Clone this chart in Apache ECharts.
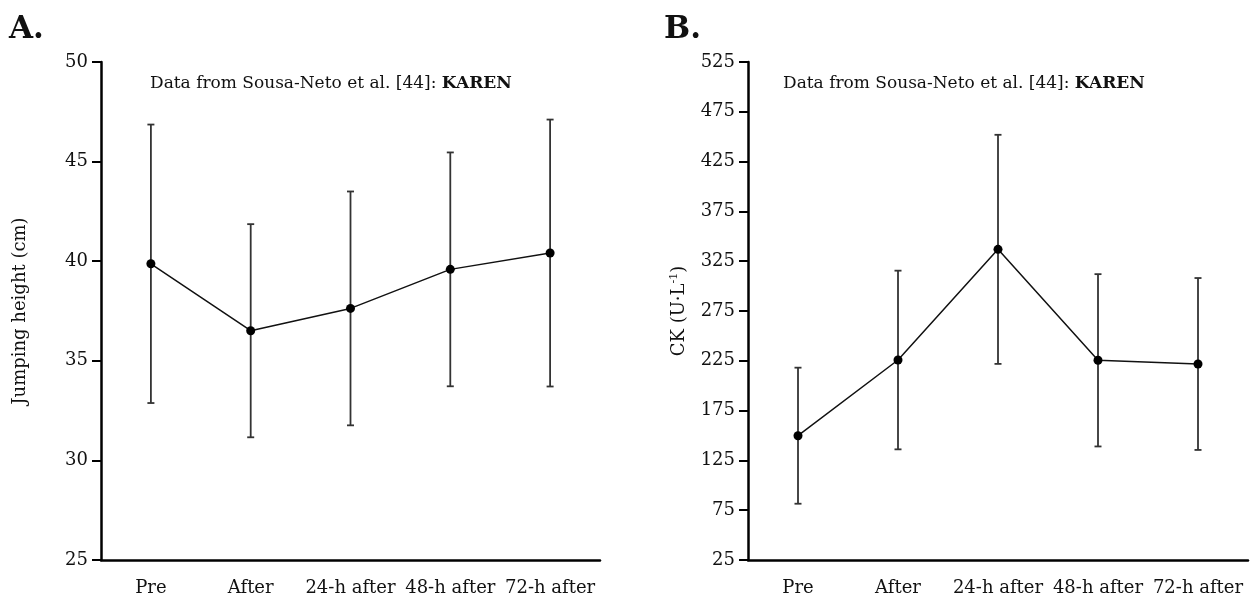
<!DOCTYPE html>
<html>
<head>
<meta charset="utf-8">
<script src="https://cdn.jsdelivr.net/npm/echarts@6/dist/echarts.min.js"></script>
<style>
  html, body { margin: 0; padding: 0; background: #fff; }
  #chart { width: 1253px; height: 601px; }
</style>
</head>
<body>
<div id="chart"></div>
<script>
const categories = ['Pre', 'After', '24-h after', '48-h after', '72-h after']

// panel A: jumping height (cm), mean and SD
const jumpMean = [39.87, 36.51, 37.63, 39.59, 40.41]
const jumpSd = [6.99, 5.35, 5.87, 5.87, 6.70]
const jumpTicks = { min: 25, max: 50, interval: 5 }

// panel B: CK (U/L), mean and SD
const ckMean = [149.8, 225.8, 336.9, 225.5, 221.8]
const ckSd = [68.3, 89.7, 115.0, 86.5, 86.3]
const ckTicks = { min: 25, max: 525, interval: 50 }

const FONT = 'DejaVu Serif'

function errorData(mean, sd) {
  return mean.map((m, i) => [i, m - sd[i], m + sd[i]])
}

function renderErrorBar(params, api) {
  const lo = api.coord([api.value(0), api.value(1)])
  const hi = api.coord([api.value(0), api.value(2)])
  const cap = 3.5
  const style = { stroke: '#333', lineWidth: 1.8 }
  return {
    type: 'group',
    children: [
      { type: 'line', shape: { x1: lo[0], y1: lo[1], x2: hi[0], y2: hi[1] }, style },
      { type: 'line', shape: { x1: hi[0] - cap, y1: hi[1], x2: hi[0] + cap, y2: hi[1] }, style },
      { type: 'line', shape: { x1: lo[0] - cap, y1: lo[1], x2: lo[0] + cap, y2: lo[1] }, style }
    ]
  }
}

function xAxis(gridIndex) {
  return {
    type: 'category',
    gridIndex: gridIndex,
    data: categories,
    boundaryGap: true,
    axisLine: { onZero: false, lineStyle: { color: '#000', width: 2.5 } },
    axisTick: { show: false },
    axisLabel: { interval: 0, color: '#111', fontFamily: FONT, fontSize: 18, margin: 19 },
    splitLine: { show: false }
  }
}

function yAxis(gridIndex, ticks, name, gap) {
  return {
    type: 'value',
    gridIndex: gridIndex,
    min: ticks.min,
    max: ticks.max,
    interval: ticks.interval,
    name: name,
    nameLocation: 'middle',
    nameGap: gap,
    nameTextStyle: {
      color: '#111', fontFamily: FONT, fontSize: 18,
      rich: { sup: { fontFamily: FONT, fontSize: 11, verticalAlign: 'top', padding: [0, 0, 10, 0], color: '#111' } }
    },
    axisLine: { show: true, lineStyle: { color: '#000', width: 2.5 } },
    axisTick: { show: true, inside: false, length: 9, lineStyle: { color: '#000', width: 2 } },
    axisLabel: { color: '#111', fontFamily: FONT, fontSize: 18, margin: 13 },
    splitLine: { show: false }
  }
}

function lineSeries(idx, mean) {
  return {
    type: 'line',
    xAxisIndex: idx,
    yAxisIndex: idx,
    data: mean,
    symbol: 'circle',
    symbolSize: 9,
    lineStyle: { color: '#111', width: 1.5 },
    itemStyle: { color: '#000' },
    z: 3,
    animation: false
  }
}

function barSeries(idx, mean, sd) {
  return {
    type: 'custom',
    xAxisIndex: idx,
    yAxisIndex: idx,
    data: errorData(mean, sd),
    renderItem: renderErrorBar,
    z: 2,
    animation: false
  }
}

function note(left) {
  return {
    type: 'text',
    left: left,
    top: 75,
    style: {
      text: '{n|Data from Sousa-Neto et al. [44]: }{b|KAREN}',
      rich: {
        n: { fontFamily: FONT, fontSize: 17, fill: '#111' },
        b: { fontFamily: FONT, fontSize: 17, fontWeight: 'bold', fill: '#111' }
      }
    }
  }
}

const chart = echarts.init(document.getElementById('chart'))
chart.setOption({
  backgroundColor: '#fff',
  animation: false,
  grid: [
    { left: 101, top: 62, width: 499, bottom: 41 },
    { left: 748, top: 62, width: 500, bottom: 41 }
  ],
  xAxis: [xAxis(0), xAxis(1)],
  yAxis: [
    yAxis(0, jumpTicks, 'Jumping height (cm)', 72),
    yAxis(1, ckTicks, 'CK (U·L{sup|-1})', 58)
  ],
  series: [
    barSeries(0, jumpMean, jumpSd),
    lineSeries(0, jumpMean),
    barSeries(1, ckMean, ckSd),
    lineSeries(1, ckMean)
  ],
  graphic: [
    { type: 'text', left: 9, top: 14, style: { text: 'A.', fontFamily: FONT, fontSize: 31, fontWeight: 'bold', fill: '#111' } },
    { type: 'text', left: 664, top: 14, style: { text: 'B.', fontFamily: FONT, fontSize: 31, fontWeight: 'bold', fill: '#111' } },
    note(150),
    note(783)
  ]
})
</script>
</body>
</html>
